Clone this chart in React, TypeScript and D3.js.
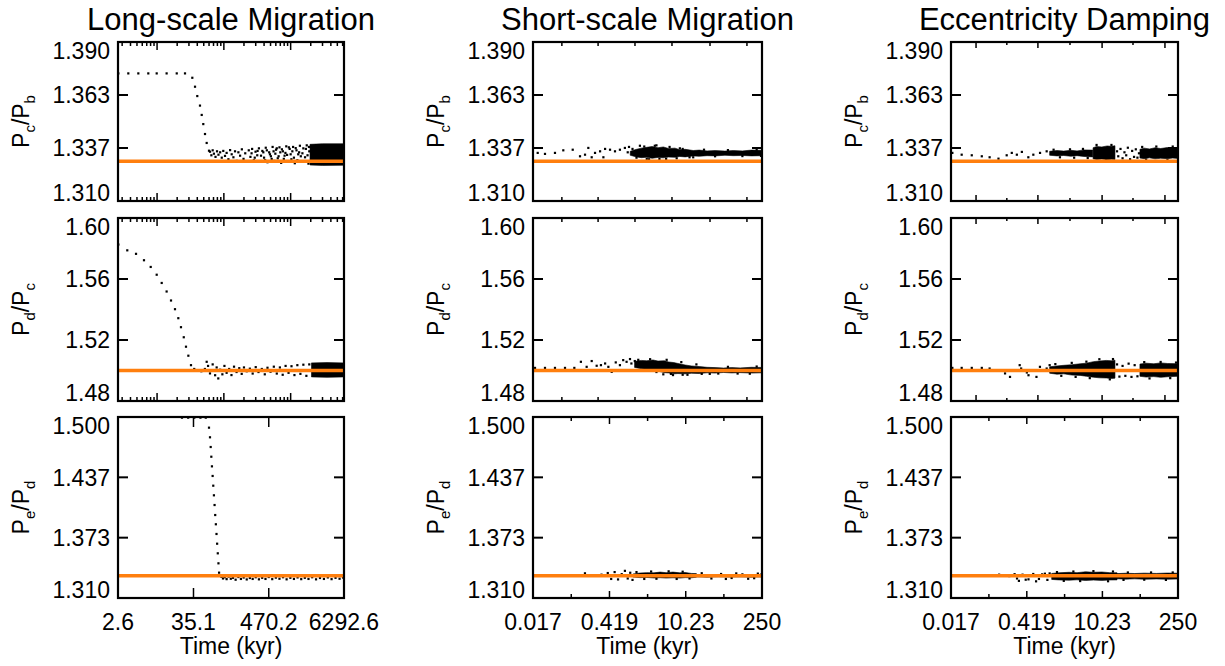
import React from "react";
import * as d3 from "d3";

type Pt = [number, number];
type BandPt = [number, number, number];

const FONT = "'Liberation Sans', Arial, Helvetica, sans-serif";
const ORANGE = "#ff7f0e";

// ---- axes -------------------------------------------------------------
const columnTitles = ["Long-scale Migration", "Short-scale Migration", "Eccentricity Damping"];
const longRange: [number, number] = [2.6, 6292.6];
const shortRange: [number, number] = [0.017, 250];
const longTickValues = [2.6, 35.1, 470.2, 6292.6];
const longTickLabels = ["2.6", "35.1", "470.2", "6292.6"];
const shortTickValues = [0.017, 0.419, 10.23, 250];
const shortTickLabels = ["0.017", "0.419", "10.23", "250"];
const shortMinorTicks = [0.0844, 2.07, 50.6];
const shortUpperTicks = [0.057, 0.26, 1.22, 5.75, 28.3, 133];
const dampUpperTicks = [0.049, 0.18, 0.67, 2.6, 10.1, 37.3, 144];

const rowRanges: [number, number][] = [[1.31, 1.39], [1.48, 1.6], [1.31, 1.5]];
const rowTickValues = [
  [1.31, 1.33667, 1.36333, 1.39],
  [1.48, 1.52, 1.56, 1.6],
  [1.31, 1.37333, 1.43667, 1.5],
];
const rowTickLabels = [
  ["1.310", "1.337", "1.363", "1.390"],
  ["1.48", "1.52", "1.56", "1.60"],
  ["1.310", "1.373", "1.437", "1.500"],
];
const rowLabels = [["c", "b"], ["d", "c"], ["e", "d"]];
const resonance = [1.33, 1.5, 1.3333];

// ---- long-scale migration ---------------------------------------------
const longPcPbDots: Pt[] = [
  [2.63, 1.3742], [3.71, 1.3742], [5.24, 1.3742], [7.39, 1.3742], [9.87, 1.3742], [13.9, 1.3742],
  [19.7, 1.3742], [26.2, 1.3742], [33.7, 1.372], [37.0, 1.3675], [40.0, 1.3628], [43.9, 1.358],
  [46.6, 1.3533], [49.2, 1.3487], [52.2, 1.3437], [55.3, 1.3392], [59.9, 1.3353],
  [62, 1.3348], [65, 1.333], [68, 1.3355], [71, 1.3338], [75, 1.3322], [79, 1.335], [83, 1.3333],
  [88, 1.3345], [93, 1.3318], [98, 1.3352], [104, 1.3327], [110, 1.3342], [117, 1.331], [124, 1.3356],
  [131, 1.3335], [139, 1.332], [147, 1.335], [156, 1.3302], [165, 1.3345], [175, 1.3328], [186, 1.336],
  [197, 1.3312], [209, 1.334], [222, 1.3298], [236, 1.3355], [250, 1.3322], [265, 1.3362], [281, 1.3305],
  [298, 1.3348], [316, 1.333], [335, 1.3365], [355, 1.33], [377, 1.3352], [400, 1.3318], [424, 1.3368],
  [450, 1.3295], [477, 1.3345], [506, 1.3325], [537, 1.3372], [570, 1.3302], [604, 1.3358], [641, 1.3315],
  [680, 1.337], [721, 1.3292], [765, 1.335], [811, 1.3328], [860, 1.3375], [912, 1.3298], [967, 1.3362],
  [1026, 1.331], [1088, 1.3372], [1154, 1.329], [1224, 1.3355], [1298, 1.3335], [1376, 1.3378],
  [1460, 1.33], [1548, 1.3365], [1642, 1.332], [1742, 1.338], [1847, 1.3288], [1900, 1.335],
  [260, 1.334], [290, 1.3318], [320, 1.3352], [360, 1.3328], [390, 1.3345], [415, 1.3305], [440, 1.3355],
  [490, 1.3335], [520, 1.3312], [555, 1.335], [590, 1.3338], [620, 1.3365], [660, 1.3325], [700, 1.3345],
  [740, 1.336], [790, 1.3312], [835, 1.3342], [885, 1.3332], [940, 1.337], [1000, 1.3335], [1060, 1.335],
  [1120, 1.3318], [1190, 1.3366], [1260, 1.3305], [1340, 1.3345], [1420, 1.3325], [1500, 1.334],
  [1590, 1.33], [1690, 1.3362], [1790, 1.333], [1880, 1.3372],
];
const longPcPbBands: BandPt[][] = [
  [[1950, 1.3281, 1.3385], [3000, 1.3279, 1.3388], [6292.6, 1.328, 1.3388]],
];

const longPdPcDots: Pt[] = [
  [2.63, 1.5826], [3.58, 1.5788], [4.84, 1.5765], [6.37, 1.5723], [8.03, 1.5679], [9.87, 1.5628],
  [11.73, 1.5574], [13.9, 1.5518], [16.17, 1.5459], [18.55, 1.5402], [20.8, 1.5343], [22.8, 1.5284],
  [25.1, 1.5218], [27.1, 1.5156], [29.4, 1.5097], [32.2, 1.5035],
  [36, 1.501], [41, 1.5002], [46, 1.4995], [52, 1.501], [55.3, 1.5057], [58, 1.503], [62, 1.4981],
  [68, 1.504], [74, 1.4969], [78, 1.502], [82.5, 1.4948], [88, 1.5005], [95, 1.4975], [102, 1.503],
  [110, 1.4985], [120, 1.501], [130, 1.497], [142, 1.5025], [155, 1.499], [170, 1.5015], [185, 1.4978],
  [200, 1.502], [220, 1.4995], [245, 1.5012], [270, 1.498], [300, 1.5022], [330, 1.499], [370, 1.501],
  [410, 1.4975], [450, 1.5018], [500, 1.4992], [560, 1.5025], [620, 1.498], [690, 1.502], [760, 1.4972],
  [840, 1.503], [930, 1.4985], [1030, 1.5028], [1140, 1.497], [1260, 1.5035], [1400, 1.4978],
  [1550, 1.5038], [1720, 1.4965], [1900, 1.504],
];
const longPdPcBands: BandPt[][] = [
  [[2050, 1.4958, 1.505], [3500, 1.4955, 1.5052], [6292.6, 1.4958, 1.505]],
];

const longPePdDots: Pt[] = [
  [23.6, 1.4993], [29.2, 1.4993], [36.1, 1.4993], [44.6, 1.4993], [53.6, 1.4993],
  [59.9, 1.4888], [62, 1.4787], [63.5, 1.4685], [64.9, 1.4583], [66.3, 1.4482], [67.9, 1.4381],
  [69.4, 1.4279], [71, 1.4178], [72.6, 1.4076], [74.2, 1.3971], [75.9, 1.3874], [77.6, 1.3772],
  [79.3, 1.367], [81.1, 1.3569], [83, 1.3464], [84.8, 1.3366],
  [88, 1.334], [92, 1.3322], [97, 1.3305], [103, 1.3318], [110, 1.3298], [118, 1.3325], [127, 1.3302],
  [137, 1.3312], [150, 1.3292], [165, 1.332], [180, 1.33], [198, 1.3315], [220, 1.3295], [245, 1.331],
  [270, 1.33], [300, 1.3318], [335, 1.3296], [375, 1.3312], [420, 1.33], [470, 1.332], [530, 1.3298],
  [600, 1.3314], [680, 1.3302], [770, 1.3318], [870, 1.3296], [990, 1.3312], [1120, 1.33], [1270, 1.3316],
  [1440, 1.3298], [1630, 1.3312], [1850, 1.33], [2100, 1.3318], [2400, 1.3296], [2750, 1.331],
  [3150, 1.33], [3600, 1.3316], [4100, 1.3298], [4700, 1.3312], [5400, 1.3302], [6100, 1.3315],
];
const longPePdBands: BandPt[][] = [];

// ---- short-scale migration --------------------------------------------
const shortPcPbDots: Pt[] = [
  [0.0207, 1.3342], [0.0281, 1.3337], [0.0427, 1.3342], [0.0605, 1.3355], [0.0898, 1.3358],
  [0.1219, 1.3325], [0.1504, 1.3333], [0.1727, 1.3367], [0.1989, 1.332], [0.2287, 1.3342],
  [0.2826, 1.335], [0.3247, 1.332], [0.3486, 1.3362], [0.4289, 1.3358], [0.528, 1.335],
  [0.6494, 1.3358], [0.799, 1.3367], [0.9, 1.3345], [0.95, 1.3372],
  [1.1, 1.3362], [1.3, 1.3318], [1.5, 1.3378], [1.8, 1.3374], [2.0, 1.3312], [2.2, 1.331],
  [2.8, 1.3378], [3.0, 1.338], [3.4, 1.3311], [4.5, 1.3312], [5.2, 1.3372], [7, 1.3315], [8, 1.3365],
  [9, 1.3362], [12, 1.332], [14, 1.332], [22, 1.3358], [35, 1.3325], [60, 1.3356], [110, 1.3326],
  [200, 1.3358], [240, 1.3327],
];
const shortPcPbBands: BandPt[][] = [
  [
    [1.0, 1.333, 1.335], [1.3, 1.3322, 1.336], [1.6, 1.3318, 1.3366], [2.0, 1.332, 1.337],
    [2.5, 1.3315, 1.3374], [3.2, 1.3319, 1.3368], [4.0, 1.3317, 1.3372], [5.0, 1.3321, 1.3364],
    [6.5, 1.332, 1.3366], [8, 1.3324, 1.3358], [10, 1.3322, 1.336], [14, 1.3327, 1.3354],
    [18, 1.3325, 1.3356], [25, 1.3328, 1.3352], [35, 1.3327, 1.3354], [53, 1.333, 1.3351],
    [75, 1.3328, 1.3354], [110, 1.3329, 1.3352], [160, 1.3327, 1.3356], [250, 1.3328, 1.3355],
  ],
];

const shortPdPcDots: Pt[] = [
  [0.0185, 1.5017], [0.0281, 1.5017], [0.0427, 1.5017], [0.065, 1.5017], [0.0961, 1.5017],
  [0.1265, 1.5057], [0.161, 1.5024], [0.199, 1.5062], [0.245, 1.5031], [0.293, 1.5035],
  [0.349, 1.5046], [0.4, 1.5024], [0.46, 1.4991], [0.545, 1.5053], [0.649, 1.5035], [0.745, 1.5068],
  [0.858, 1.5057], [0.99, 1.5075], [1.05, 1.5046], [1.21, 1.5062],
  [4, 1.4975], [6, 1.497], [9, 1.4972], [20, 1.4978], [40, 1.498], [150, 1.4979],
  [1.4, 1.507], [2.3, 1.5074], [3.0, 1.499], [4.6, 1.507], [5.5, 1.4978], [8.5, 1.5055], [11, 1.4972],
  [16, 1.504], [28, 1.4978], [60, 1.5024], [90, 1.498], [200, 1.5026],
];
const shortPdPcBands: BandPt[][] = [
  [
    [1.2, 1.502, 1.506], [1.6, 1.5012, 1.5066], [2.0, 1.5008, 1.5064], [2.6, 1.5, 1.5069],
    [3.2, 1.4996, 1.5062], [4.2, 1.4986, 1.5064], [5.0, 1.4984, 1.5056], [6.2, 1.4978, 1.5052],
    [7.4, 1.498, 1.5046], [10, 1.4978, 1.5036], [13, 1.4982, 1.503], [18, 1.498, 1.5026],
    [25, 1.4985, 1.5021], [35, 1.4983, 1.5019], [50, 1.4987, 1.5016], [70, 1.4984, 1.5019],
    [100, 1.4986, 1.5017], [160, 1.4983, 1.5021], [250, 1.4985, 1.502],
  ],
];

const shortPePdDots: Pt[] = [
  [0.15, 1.3359], [0.3, 1.3345], [0.39, 1.3362], [0.45, 1.33], [0.52, 1.3372], [0.6, 1.3295],
  [0.7, 1.335], [0.8, 1.3385], [0.9, 1.3305], [1.0, 1.3365], [1.1, 1.329],
  [30, 1.3305], [45, 1.3352], [70, 1.331], [110, 1.3348], [180, 1.3308], [240, 1.3345],
  [1.3, 1.3372], [1.8, 1.33], [2.4, 1.3378], [3.0, 1.3302], [5, 1.338], [7, 1.33], [9, 1.3376],
  [12, 1.3305], [20, 1.336], [55, 1.33], [85, 1.3358], [140, 1.3302], [210, 1.3356],
];
const shortPePdBands: BandPt[][] = [
  [
    [1.12, 1.332, 1.3352], [1.5, 1.3314, 1.3362], [2, 1.3316, 1.3366], [2.7, 1.331, 1.3364],
    [3.5, 1.3313, 1.3372], [4.5, 1.3309, 1.3366], [6, 1.3312, 1.3372], [8, 1.3309, 1.3364],
    [10, 1.3314, 1.3368], [13, 1.3312, 1.3358], [16, 1.3318, 1.3356],
  ],
  [
    [16, 1.3322, 1.3346], [25, 1.3319, 1.3344], [40, 1.3323, 1.3347], [65, 1.332, 1.3343],
    [100, 1.3322, 1.3346], [160, 1.3319, 1.3344], [250, 1.3322, 1.3346],
  ],
];

// ---- eccentricity damping ---------------------------------------------
const dampPcPbDots: Pt[] = [
  [0.018, 1.3342], [0.0267, 1.3333], [0.0409, 1.333], [0.0625, 1.3325], [0.087, 1.332],
  [0.1265, 1.3313], [0.179, 1.333], [0.222, 1.3342], [0.275, 1.3333], [0.34, 1.3347],
  [0.447, 1.332], [0.552, 1.3333], [0.733, 1.3342], [0.97, 1.335],
  [19, 1.335], [20, 1.3325], [22, 1.3362], [24, 1.3315], [26, 1.3345], [28, 1.333], [30, 1.3368],
  [33, 1.331], [36, 1.3352], [39, 1.3322], [42, 1.336], [45, 1.3318], [48, 1.334],
  [1.3, 1.3358], [1.7, 1.332], [2.6, 1.336], [3.1, 1.3318], [4.5, 1.3362], [5.5, 1.3316],
  [8, 1.3382], [12, 1.3304], [15, 1.3382], [55, 1.3372], [65, 1.3308], [100, 1.3374],
  [160, 1.3306], [200, 1.3374],
];
const dampPcPbBands: BandPt[][] = [
  [
    [1.1, 1.333, 1.335], [1.5, 1.3327, 1.3354], [2.0, 1.3329, 1.3351], [2.7, 1.3325, 1.3355],
    [3.5, 1.3328, 1.3352], [4.7, 1.3324, 1.3357], [6.8, 1.3322, 1.3356],
  ],
  [
    [6.9, 1.3312, 1.3368], [8, 1.3309, 1.3374], [10, 1.3311, 1.3372], [12.5, 1.3308, 1.3377],
    [15, 1.331, 1.3375], [17.4, 1.3309, 1.3378],
  ],
  [
    [50, 1.3316, 1.336], [60, 1.3313, 1.3366], [75, 1.3317, 1.3362], [95, 1.3312, 1.3368],
    [120, 1.3315, 1.3364], [160, 1.3313, 1.3369], [200, 1.3316, 1.3366], [250, 1.3314, 1.3368],
  ],
];

const dampPdPcDots: Pt[] = [
  [0.018, 1.5017], [0.0267, 1.5017], [0.0409, 1.5017], [0.0625, 1.5017], [0.087, 1.5013],
  [0.167, 1.4981], [0.206, 1.4958], [0.31, 1.5035], [0.33, 1.5013], [0.42, 1.4987], [0.45, 1.4969],
  [0.63, 1.4958], [0.73, 1.5024], [0.97, 1.5013], [1.1, 1.5035],
  [19, 1.504], [21, 1.496], [24, 1.503], [27, 1.4965], [31, 1.5045], [35, 1.4958], [40, 1.5035], [45, 1.4962],
  [1.4, 1.5042], [1.8, 1.4965], [2.8, 1.505], [3.3, 1.4958], [5.2, 1.5058], [6, 1.495], [9, 1.5074],
  [14, 1.4942], [16, 1.5075], [60, 1.5055], [75, 1.4948], [120, 1.5056], [180, 1.495], [230, 1.5052],
];
const dampPdPcBands: BandPt[][] = [
  [
    [1.1, 1.4982, 1.5024], [1.5, 1.4976, 1.503], [2.0, 1.4978, 1.5034], [2.8, 1.497, 1.5038],
    [4.0, 1.4968, 1.5044], [5.2, 1.4962, 1.5048], [7.0, 1.4956, 1.5058], [9, 1.4952, 1.5062],
    [12, 1.4951, 1.5066], [15, 1.4948, 1.5064], [17.4, 1.495, 1.5068],
  ],
  [
    [50, 1.4962, 1.5042], [65, 1.4957, 1.5048], [90, 1.496, 1.5044], [120, 1.4955, 1.505],
    [160, 1.4959, 1.5046], [250, 1.4962, 1.5045],
  ],
];

const dampPePdDots: Pt[] = [
  [0.0579, 1.334], [0.09, 1.3338], [0.13, 1.3345], [0.2, 1.333], [0.25, 1.335], [0.277, 1.3305],
  [0.3, 1.328], [0.35, 1.3345], [0.4, 1.3292], [0.45, 1.3296], [0.55, 1.3352], [0.62, 1.3275],
  [0.7, 1.33], [0.8, 1.3348], [0.9, 1.3355], [1.0, 1.329], [1.1, 1.3358],
  [1.5, 1.3372], [2, 1.328], [3, 1.3378], [4, 1.3278], [7, 1.3382], [13, 1.3276], [16, 1.3378],
  [25, 1.329], [30, 1.3368], [60, 1.3292], [80, 1.3368], [150, 1.329], [200, 1.3368],
];
const dampPePdBands: BandPt[][] = [
  [
    [1.2, 1.3295, 1.3358], [1.6, 1.329, 1.3364], [2.5, 1.3287, 1.337], [3.5, 1.3291, 1.3366],
    [5, 1.3284, 1.3375], [7, 1.3288, 1.337], [10, 1.3285, 1.3373], [14, 1.3289, 1.3366], [19, 1.329, 1.3365],
  ],
  [
    [19, 1.3302, 1.3356], [27, 1.3298, 1.336], [40, 1.3301, 1.3357], [60, 1.3297, 1.3361],
    [100, 1.33, 1.3358], [160, 1.3297, 1.3362], [250, 1.33, 1.336],
  ],
];

const panelDots: Pt[][][] = [
  [longPcPbDots, longPdPcDots, longPePdDots],
  [shortPcPbDots, shortPdPcDots, shortPePdDots],
  [dampPcPbDots, dampPdPcDots, dampPePdDots],
];
const panelBands: BandPt[][][][] = [
  [longPcPbBands, longPdPcBands, longPePdBands],
  [shortPcPbBands, shortPdPcBands, shortPePdBands],
  [dampPcPbBands, dampPdPcBands, dampPePdBands],
];

// ---- layout -------------------------------------------------------------
const colLeft = [118, 533, 951];
const colWidth = [226, 229, 227];
const rowTop = [42, 218, 417];
const rowBottom = [201, 401, 598];

type Tick = { v: number; len: number };

function xTicksFor(col: number, row: number, x: d3.ScaleLogarithmic<number, number>): Tick[] {
  if (row === 2) {
    if (col === 0) return longTickValues.map((v) => ({ v, len: 10 }));
    return [
      ...shortTickValues.map((v) => ({ v, len: 7 })),
      ...shortMinorTicks.map((v) => ({ v, len: 4 })),
    ];
  }
  if (col === 0) {
    // log decades with minor ticks, as on the unlabelled upper axes
    return x.ticks().map((v) => {
      const major = Math.abs(Math.log10(v) - Math.round(Math.log10(v))) < 1e-9;
      return { v, len: major ? 8 : 4 };
    });
  }
  if (col === 1) return shortUpperTicks.map((v) => ({ v, len: 4 }));
  return dampUpperTicks.map((v, i) => ({ v, len: i % 2 === 0 ? 6 : 3 }));
}

function Panel({ col, row }: { col: number; row: number }) {
  const left = colLeft[col];
  const right = left + colWidth[col];
  const top = rowTop[row];
  const bottom = rowBottom[row];
  const x = d3.scaleLog().domain(col === 0 ? longRange : shortRange).range([left, right]);
  const y = d3.scaleLinear().domain(rowRanges[row]).range([bottom, top]);
  const clipId = `clip-${col}-${row}`;
  const area = d3
    .area<BandPt>()
    .x((d) => x(d[0]))
    .y0((d) => y(d[1]))
    .y1((d) => y(d[2]));
  const xt = xTicksFor(col, row, x);
  const cy = (top + bottom) / 2;
  const [s1, s2] = rowLabels[row];

  return (
    <g>
      <defs>
        <clipPath id={clipId}>
          <rect x={left} y={top} width={right - left} height={bottom - top} />
        </clipPath>
      </defs>
      <g clipPath={`url(#${clipId})`}>
        {panelBands[col][row].map((b, i) => (
          <path key={i} d={area(b) || ""} fill="#000" stroke="#000" strokeWidth={0.6} />
        ))}
        {panelDots[col][row].map((d, i) => (
          <rect key={i} x={x(d[0]) - 1.1} y={y(d[1]) - 1.1} width={2.2} height={2.2} fill="#000" />
        ))}
        <line
          x1={left}
          x2={right}
          y1={y(resonance[row])}
          y2={y(resonance[row])}
          stroke={ORANGE}
          strokeWidth={3.5}
        />
      </g>
      {rowTickValues[row].map((v, i) => (
        <g key={i}>
          <line x1={left} x2={left + 10} y1={y(v)} y2={y(v)} stroke="#000" strokeWidth={2} />
          <line x1={right} x2={right - 10} y1={y(v)} y2={y(v)} stroke="#000" strokeWidth={2} />
          <text
            x={left - 8}
            y={Math.min(Math.max(y(v), top + 8.5), bottom - 8.5) + 8.2}
            textAnchor="end"
            fontSize={23}
            fontFamily={FONT}
          >
            {rowTickLabels[row][i]}
          </text>
        </g>
      ))}
      {xt.map((t, i) => (
        <g key={i}>
          <line x1={x(t.v)} x2={x(t.v)} y1={bottom} y2={bottom - t.len} stroke="#000" strokeWidth={1.5} />
          <line x1={x(t.v)} x2={x(t.v)} y1={top} y2={top + t.len} stroke="#000" strokeWidth={1.5} />
        </g>
      ))}
      <rect x={left} y={top} width={right - left} height={bottom - top} fill="none" stroke="#000" strokeWidth={2.2} />
      {row === 2 &&
        (col === 0 ? longTickValues : shortTickValues).map((v, i) => (
          <text key={i} x={x(v)} y={630} textAnchor="middle" fontSize={23} fontFamily={FONT}>
            {(col === 0 ? longTickLabels : shortTickLabels)[i]}
          </text>
        ))}
      {row === 2 && (
        <text x={(left + right) / 2} y={654} textAnchor="middle" fontSize={23} fontFamily={FONT}>
          Time (kyr)
        </text>
      )}
      {row === 0 && (
        <text x={(left + right) / 2} y={30} textAnchor="middle" fontSize={31} fontFamily={FONT}>
          {columnTitles[col]}
        </text>
      )}
      <text
        transform={`translate(${left - 89.5},${cy}) rotate(-90)`}
        textAnchor="middle"
        fontSize={23}
        fontFamily={FONT}
      >
        P<tspan fontSize={15} dy={6}>{s1}</tspan>
        <tspan dy={-6}>/P</tspan>
        <tspan fontSize={15} dy={6}>{s2}</tspan>
      </text>
    </g>
  );
}

export default function App() {
  return (
    <svg
      width={1225}
      height={666}
      style={{ position: "absolute", left: 0, top: 0, background: "#fff" }}
    >
      {[0, 1, 2].map((col) =>
        [0, 1, 2].map((row) => <Panel key={`${col}-${row}`} col={col} row={row} />)
      )}
    </svg>
  );
}
